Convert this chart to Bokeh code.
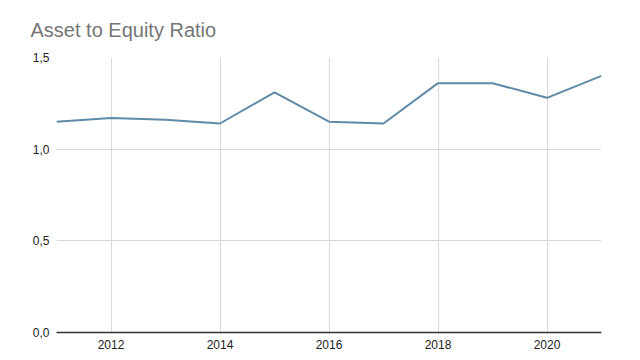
from bokeh.plotting import figure
from bokeh.models import FixedTicker, CustomJSTickFormatter, Range1d
from bokeh.embed import file_html
from bokeh.resources import INLINE

years = [2011, 2012, 2013, 2014, 2015, 2016, 2017, 2018, 2019, 2020, 2021]
ratio = [1.15, 1.17, 1.16, 1.14, 1.31, 1.15, 1.14, 1.36, 1.36, 1.28, 1.40]
x_ticks = [2012, 2014, 2016, 2018, 2020]
y_ticks = [0.0, 0.5, 1.0, 1.5]
title_text = "Asset to Equity Ratio"

p = figure(width=640, height=360, output_backend="svg", toolbar_location=None,
           x_range=Range1d(2011, 2021), y_range=Range1d(0, 1.5),
           min_border_left=56, min_border_right=39, min_border_top=57, min_border_bottom=28)

p.title.text = title_text
p.title.text_font = "Liberation Sans"
p.title.text_font_size = "20px"
p.title.text_font_style = "normal"
p.title.text_color = "#757575"
p.title.offset = -26
p.title.standoff = 33

p.line(years, ratio, line_color="#5f8aa8", line_width=2)

p.outline_line_color = None
p.background_fill_color = "white"
p.border_fill_color = "white"

p.xaxis.ticker = FixedTicker(ticks=x_ticks)
p.yaxis.ticker = FixedTicker(ticks=y_ticks)
p.yaxis.formatter = CustomJSTickFormatter(code="return tick.toFixed(1).replace('.', ',');")

for ax in (p.xaxis[0], p.yaxis[0]):
    ax.major_tick_line_color = None
    ax.minor_tick_line_color = None
    ax.major_label_text_font = "Liberation Sans"
    ax.major_label_text_font_size = "12px"
    ax.major_label_text_color = "#222222"
p.xaxis.major_label_standoff = 1
p.yaxis.major_label_standoff = 1
p.xaxis.axis_line_color = "#333333"
p.xaxis.axis_line_width = 1.5
p.yaxis.axis_line_color = None

p.xgrid.grid_line_color = "#d9d9d9"
p.ygrid.grid_line_color = "#d9d9d9"
p.xgrid.ticker = FixedTicker(ticks=x_ticks)
p.ygrid.ticker = FixedTicker(ticks=y_ticks)

open("out.html", "w").write(file_html(p, INLINE))
